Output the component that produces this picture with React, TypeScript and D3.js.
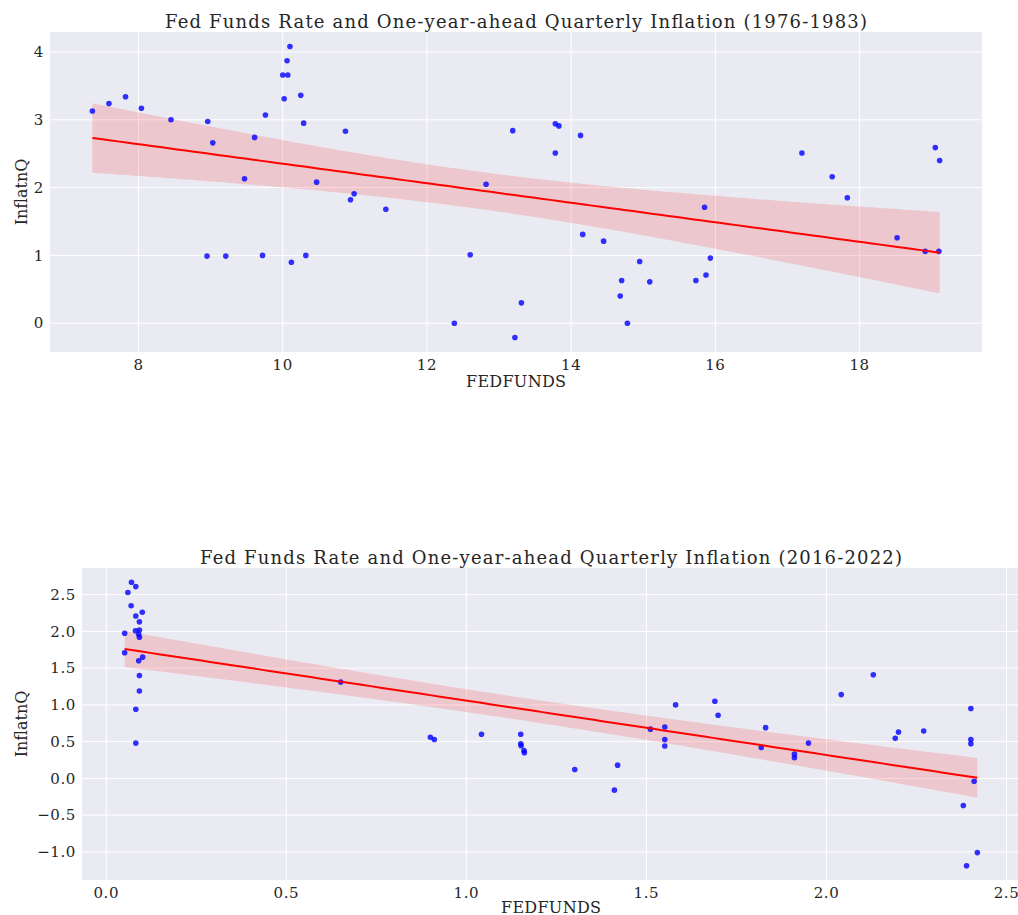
import React, {useEffect, useRef} from 'react';
import * as d3 from 'd3';

// 1976-1983 panel: fed funds rate vs one-year-ahead quarterly inflation
const fedfunds7683 = [
    7.36, 7.59, 7.82, 8.04, 8.45, 8.96, 9.03, 8.95, 9.21, 9.47, 9.61, 9.72, 9.76, 10.0,
    10.07, 10.06, 10.10, 10.02, 10.12, 10.25, 10.29, 10.32, 10.47, 10.87, 10.94, 10.99,
    11.43, 12.38, 12.60, 12.82, 13.19, 13.22, 13.31, 13.78, 13.83, 13.78, 14.13, 14.16,
    14.45, 14.95, 14.70, 15.09, 14.68, 14.78, 15.73, 15.87, 15.93, 15.85, 17.20, 17.62,
    17.83, 18.52, 18.91, 19.10, 19.05, 19.11
];
const inflat7683 = [
    3.13, 3.24, 3.34, 3.17, 3.00, 2.975, 2.66, 0.99, 0.99, 2.13, 2.74, 1.00, 3.07, 3.66,
    3.66, 3.87, 4.08, 3.31, 0.90, 3.36, 2.95, 1.00, 2.08, 2.83, 1.82, 1.91,
    1.68, 0.00, 1.01, 2.05, 2.84, -0.21, 0.30, 2.94, 2.91, 2.51, 2.77, 1.31,
    1.21, 0.91, 0.63, 0.61, 0.40, 0.00, 0.63, 0.71, 0.96, 1.71, 2.51, 2.16,
    1.85, 1.26, 1.06, 1.06, 2.59, 2.40
];

// 2016-2022 panel
const fedfunds1622 = [
    0.070, 0.082, 0.060, 0.069, 0.100, 0.082, 0.092, 0.081, 0.092, 0.051, 0.090, 0.092,
    0.051, 0.101, 0.090, 0.092, 0.092, 0.082, 0.082, 0.651, 0.900, 0.911, 1.042, 1.151,
    1.151, 1.152, 1.160, 1.161, 1.301, 1.420, 1.411, 1.511, 1.551, 1.551, 1.551, 1.581,
    1.690, 1.699, 1.819, 1.831, 1.911, 1.911, 1.950, 2.041, 2.130, 2.191, 2.200, 2.270,
    2.401, 2.401, 2.401, 2.410, 2.380, 2.419, 2.389
];
const inflat1622 = [
    2.67, 2.61, 2.53, 2.35, 2.26, 2.21, 2.13, 2.01, 2.02, 1.975, 1.96, 1.92,
    1.71, 1.65, 1.60, 1.40, 1.19, 0.94, 0.48, 1.31, 0.56, 0.53, 0.60, 0.60,
    0.47, 0.445, 0.38, 0.35, 0.12, 0.18, -0.16, 0.67, 0.70, 0.53, 0.44, 1.00,
    1.05, 0.86, 0.42, 0.69, 0.33, 0.28, 0.48, 1.14, 1.41, 0.545, 0.63, 0.645,
    0.95, 0.53, 0.47, -0.04, -0.37, -1.01, -1.19
];

const xTicks7683 = [8, 10, 12, 14, 16, 18];
const yTicks7683 = [0, 1, 2, 3, 4];
const xTicks1622 = [0, 0.5, 1, 1.5, 2, 2.5];
const yTicks1622 = [-1, -0.5, 0, 0.5, 1, 1.5, 2, 2.5];

const FONT = '"DejaVu Serif", serif';
const TXT = '#262626';

function fitLine(xs, ys) {
    const n = xs.length;
    const mx = d3.mean(xs), my = d3.mean(ys);
    let sxx = 0, sxy = 0;
    xs.forEach((x, i) => { sxx += (x - mx) ** 2; sxy += (x - mx) * (ys[i] - my); });
    const b = sxy / sxx, a = my - b * mx;
    const sse = d3.sum(xs, (x, i) => (ys[i] - a - b * x) ** 2);
    const s = Math.sqrt(sse / (n - 2));
    const grid = d3.range(0, 101).map(i => d3.min(xs) + i * (d3.max(xs) - d3.min(xs)) / 100);
    return grid.map(x => {
        const se = s * Math.sqrt(1 / n + (x - mx) ** 2 / sxx);
        const y = a + b * x;
        return {x, y, lo: y - 1.99 * se, hi: y + 1.99 * se};
    });
}

function drawPanel(g, opts) {
    const {xs, ys, xTicks, yTicks, left, right, top, bottom, title, titleX, fmt} = opts;
    const pad = (ext) => { const p = (ext[1] - ext[0]) * 0.05; return [ext[0] - p, ext[1] + p]; };
    const x = d3.scaleLinear().domain(pad(d3.extent(xs))).range([left, right]);
    const y = d3.scaleLinear().domain(pad(d3.extent(ys))).range([bottom, top]);

    g.append('rect').attr('x', left).attr('y', top)
        .attr('width', right - left).attr('height', bottom - top).attr('fill', '#EAEAF2');

    g.selectAll('.gx').data(xTicks).join('line')
        .attr('x1', d => x(d)).attr('x2', d => x(d)).attr('y1', top).attr('y2', bottom)
        .attr('stroke', 'white').attr('stroke-width', 1);
    g.selectAll('.gy').data(yTicks).join('line')
        .attr('y1', d => y(d)).attr('y2', d => y(d)).attr('x1', left).attr('x2', right)
        .attr('stroke', 'white').attr('stroke-width', 1);

    const fit = fitLine(xs, ys);
    g.append('path').datum(fit)
        .attr('d', d3.area().x(d => x(d.x)).y0(d => y(d.lo)).y1(d => y(d.hi)))
        .attr('fill', 'red').attr('fill-opacity', 0.15);

    g.selectAll('.pt').data(xs).join('circle')
        .attr('cx', d => x(d)).attr('cy', (d, i) => y(ys[i])).attr('r', 2.8)
        .attr('fill', 'blue').attr('fill-opacity', 0.8);

    g.append('path').datum(fit)
        .attr('d', d3.line().x(d => x(d.x)).y(d => y(d.y)))
        .attr('fill', 'none').attr('stroke', 'red').attr('stroke-width', 2);

    const minus = v => fmt(v).replace('-', '\u2212');
    g.selectAll('.tx').data(xTicks).join('text')
        .attr('x', d => x(d)).attr('y', bottom + 17.5).attr('text-anchor', 'middle')
        .attr('font-family', FONT).attr('font-size', 15).attr('letter-spacing', 0.6).attr('fill', TXT)
        .text(minus);
    g.selectAll('.ty').data(yTicks).join('text')
        .attr('x', left - 6).attr('y', d => y(d)).attr('dy', '0.35em').attr('text-anchor', 'end')
        .attr('font-family', FONT).attr('font-size', 15).attr('letter-spacing', 0.6).attr('fill', TXT)
        .text(minus);

    g.append('text').attr('x', titleX).attr('y', top - 4.5)
        .attr('text-anchor', 'middle').attr('font-family', FONT).attr('font-size', 18).attr('fill', TXT)
        .attr('textLength', 702).attr('lengthAdjust', 'spacing')
        .text(title);
    g.append('text').attr('x', titleX).attr('y', bottom + opts.labelGap)
        .attr('text-anchor', 'middle').attr('font-family', FONT).attr('font-size', 16).attr('fill', TXT)
        .attr('textLength', 100).attr('lengthAdjust', 'spacing')
        .text('FEDFUNDS');
    g.append('text').attr('transform', `translate(27,${(top + bottom) / 2}) rotate(-90)`)
        .attr('text-anchor', 'middle').attr('font-family', FONT).attr('font-size', 16).attr('fill', TXT)
        .text('InflatnQ');
}

export default function App() {
    const svgRef = useRef(null);
    useEffect(() => {
        const svg = d3.select(svgRef.current);
        svg.selectAll('*').remove();
        drawPanel(svg.append('g'), {
            xs: fedfunds7683, ys: inflat7683, xTicks: xTicks7683, yTicks: yTicks7683,
            left: 50, right: 982, top: 32, bottom: 352, titleX: 516, labelGap: 34.5,
            title: 'Fed Funds Rate and One-year-ahead Quarterly Inflation (1976-1983)',
            fmt: d3.format('d')
        });
        drawPanel(svg.append('g'), {
            xs: fedfunds1622, ys: inflat1622, xTicks: xTicks1622, yTicks: yTicks1622,
            left: 82, right: 1020, top: 568, bottom: 880, titleX: 551, labelGap: 32.5,
            title: 'Fed Funds Rate and One-year-ahead Quarterly Inflation (2016-2022)',
            fmt: d3.format('.1f')
        });
    }, []);
    return (
        <svg ref={svgRef} width={1018} height={915}
             style={{position: 'absolute', left: 0, top: 0, background: 'white'}}/>
    );
}
